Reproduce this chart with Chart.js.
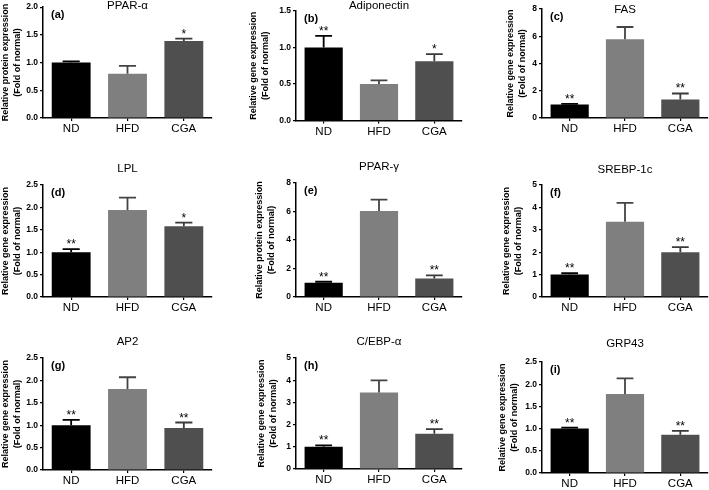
<!DOCTYPE html>
<html>
<head>
<meta charset="utf-8">
<script src="https://cdn.jsdelivr.net/npm/chart.js@4.4.1/dist/chart.umd.min.js"></script>
<style>
html, body { margin: 0; padding: 0; background: #fff; }
#wrap { position: relative; width: 709px; height: 490px; overflow: hidden; }
#wrap canvas { position: absolute; }
</style>
</head>
<body>
<div id="wrap"></div>
<script>
/* ---------- data ---------- */
const groups = ["ND", "HFD", "CGA"];
const markers = ["PPAR-α", "Adiponectin", "FAS", "LPL", "PPAR-γ", "SREBP-1c", "AP2", "C/EBP-α", "GRP43"];
const letters = ["(a)", "(b)", "(c)", "(d)", "(e)", "(f)", "(g)", "(h)", "(i)"];
const yLabels = [
    "Relative protein expression", "Relative gene expression", "Relative gene expression",
    "Relative gene expression", "Relative protein expression", "Relative gene expression",
    "Relative gene expression", "Relative gene expression", "Relative gene expression"
];
const means = [
    [1.00, 0.80, 1.39],
    [1.00, 0.50, 0.81],
    [1.00, 5.78, 1.35],
    [1.00, 1.94, 1.58],
    [1.00, 6.04, 1.30],
    [1.00, 3.36, 2.00],
    [1.00, 1.81, 0.94],
    [1.00, 3.45, 1.59],
    [1.00, 1.78, 0.86]
];
const sems = [
    [0.02, 0.14, 0.04],
    [0.16, 0.05, 0.10],
    [0.03, 0.90, 0.45],
    [0.07, 0.28, 0.08],
    [0.07, 0.80, 0.22],
    [0.06, 0.84, 0.23],
    [0.12, 0.26, 0.12],
    [0.06, 0.54, 0.21],
    [0.02, 0.35, 0.09]
];
const stars = [
    ["", "", "*"],
    ["**", "", "*"],
    ["**", "", "**"],
    ["**", "", "*"],
    ["**", "", "**"],
    ["**", "", "**"],
    ["**", "", "**"],
    ["**", "", "**"],
    ["**", "", "**"]
];
const yMax = [2, 1.5, 8, 2.5, 8, 5, 2.5, 5, 2.5];
const yStep = [0.5, 0.5, 2, 0.5, 2, 1, 0.5, 1, 0.5];

/* ---------- look ---------- */
const barColors = ["#000000", "#7f7f7f", "#4f4f4f"];
const errColors = ["#000000", "#444444", "#3a3a3a"];
const FONT = '"Liberation Sans", Arial, sans-serif';
const TITLE_LH = 11.5;

// page boxes: canvas x,y,w,h | plot left,right,top,bottom | title y | y-title first line x
const boxes = [
    [0,   0,   235, 155, 43,  212, 6,   118,   6,   5.5],
    [235, 0,   235, 155, 296, 462, 11,  120.5, 6,   254],
    [470, 0,   239, 155, 542, 708, 9,   118,   10,  511],
    [0,   160, 235, 160, 43,  212, 185, 297,   169, 5],
    [235, 160, 235, 160, 296, 462, 183, 297,   167, 260],
    [470, 160, 239, 160, 542, 708, 185, 297,   170, 507],
    [0,   320, 235, 170, 43,  212, 358, 470,   342, 6],
    [235, 320, 235, 170, 296, 462, 358, 469,   342, 262],
    [470, 320, 239, 170, 542, 708, 362, 473,   344, 503]
];

/* ---------- error bars, stars, titles ---------- */
const decor = {
    id: "decor",
    afterDatasetsDraw(chart, args, opts) {
        const p = opts.panel;
        const b = boxes[p];
        const { ctx, chartArea, scales: { y } } = chart;
        const meta = chart.getDatasetMeta(0);
        ctx.save();
        meta.data.forEach((bar, i) => {
            const top = y.getPixelForValue(means[p][i] + sems[p][i]);
            const half = bar.width * 0.22;
            ctx.strokeStyle = errColors[i];
            ctx.lineWidth = 1.8;
            ctx.beginPath();
            ctx.moveTo(bar.x, bar.y);
            ctx.lineTo(bar.x, top);
            ctx.moveTo(bar.x - half, top);
            ctx.lineTo(bar.x + half, top);
            ctx.stroke();
            if (stars[p][i]) {
                ctx.fillStyle = "#000";
                ctx.font = "12px " + FONT;
                ctx.textAlign = "center";
                ctx.textBaseline = "alphabetic";
                ctx.fillText(stars[p][i], bar.x, top - 1);
            }
        });
        ctx.fillStyle = "#000";
        ctx.textBaseline = "middle";
        ctx.font = "11.5px " + FONT;
        ctx.textAlign = "center";
        ctx.fillText(markers[p], (chartArea.left + chartArea.right) / 2, b[8] - b[1]);
        ctx.font = "bold 11px " + FONT;
        ctx.textAlign = "left";
        ctx.fillText(letters[p], chartArea.left + 8, chartArea.top + 8);
        ctx.restore();
    }
};

/* ---------- build the nine panels ---------- */
const wrap = document.getElementById("wrap");

boxes.forEach((b, p) => {
    const [cx, cy, cw, ch, L, R, T, B, , ytx] = b;
    const canvas = document.createElement("canvas");
    canvas.width = cw;
    canvas.height = ch;
    canvas.style.left = cx + "px";
    canvas.style.top = cy + "px";
    wrap.appendChild(canvas);

    const padLeft = Math.max(0, ytx - cx - TITLE_LH / 2);
    const yWidth = L - cx - padLeft;
    const xHeight = cy + ch - B;

    new Chart(canvas, {
        type: "bar",
        data: {
            labels: groups,
            datasets: [{
                data: means[p],
                backgroundColor: barColors,
                borderWidth: 0,
                barPercentage: 0.69,
                categoryPercentage: 1
            }]
        },
        options: {
            responsive: false,
            animation: false,
            devicePixelRatio: 1,
            layout: { padding: { left: padLeft, right: cx + cw - R, top: T - cy, bottom: 0 } },
            plugins: {
                legend: { display: false },
                tooltip: { enabled: false },
                decor: { panel: p }
            },
            scales: {
                x: {
                    offset: true,
                    afterFit: s => { s.height = xHeight; },
                    grid: { display: true, offset: false, drawOnChartArea: false, tickLength: 3, color: "#000", lineWidth: 1.2 },
                    border: { display: true, color: "#000", width: 1.5 },
                    ticks: { color: "#000", padding: 1, font: { family: FONT, size: 11.5 } }
                },
                y: {
                    min: 0,
                    max: yMax[p],
                    afterFit: s => { s.width = yWidth; },
                    grid: { display: true, drawOnChartArea: false, tickLength: 3, color: "#000", lineWidth: 1.2 },
                    border: { display: true, color: "#000", width: 1.5 },
                    ticks: {
                        stepSize: yStep[p],
                        color: "#000",
                        padding: 2,
                        font: { family: FONT, size: 8.5, weight: "bold" },
                        callback: v => yStep[p] < 1 ? v.toFixed(1) : String(v)
                    },
                    title: {
                        display: true,
                        text: [yLabels[p], "(Fold of normal)"],
                        color: "#000",
                        padding: 0,
                        font: { family: FONT, size: 9, weight: "bold", lineHeight: TITLE_LH / 9 }
                    }
                }
            }
        },
        plugins: [decor]
    });
});
</script>
</body>
</html>
